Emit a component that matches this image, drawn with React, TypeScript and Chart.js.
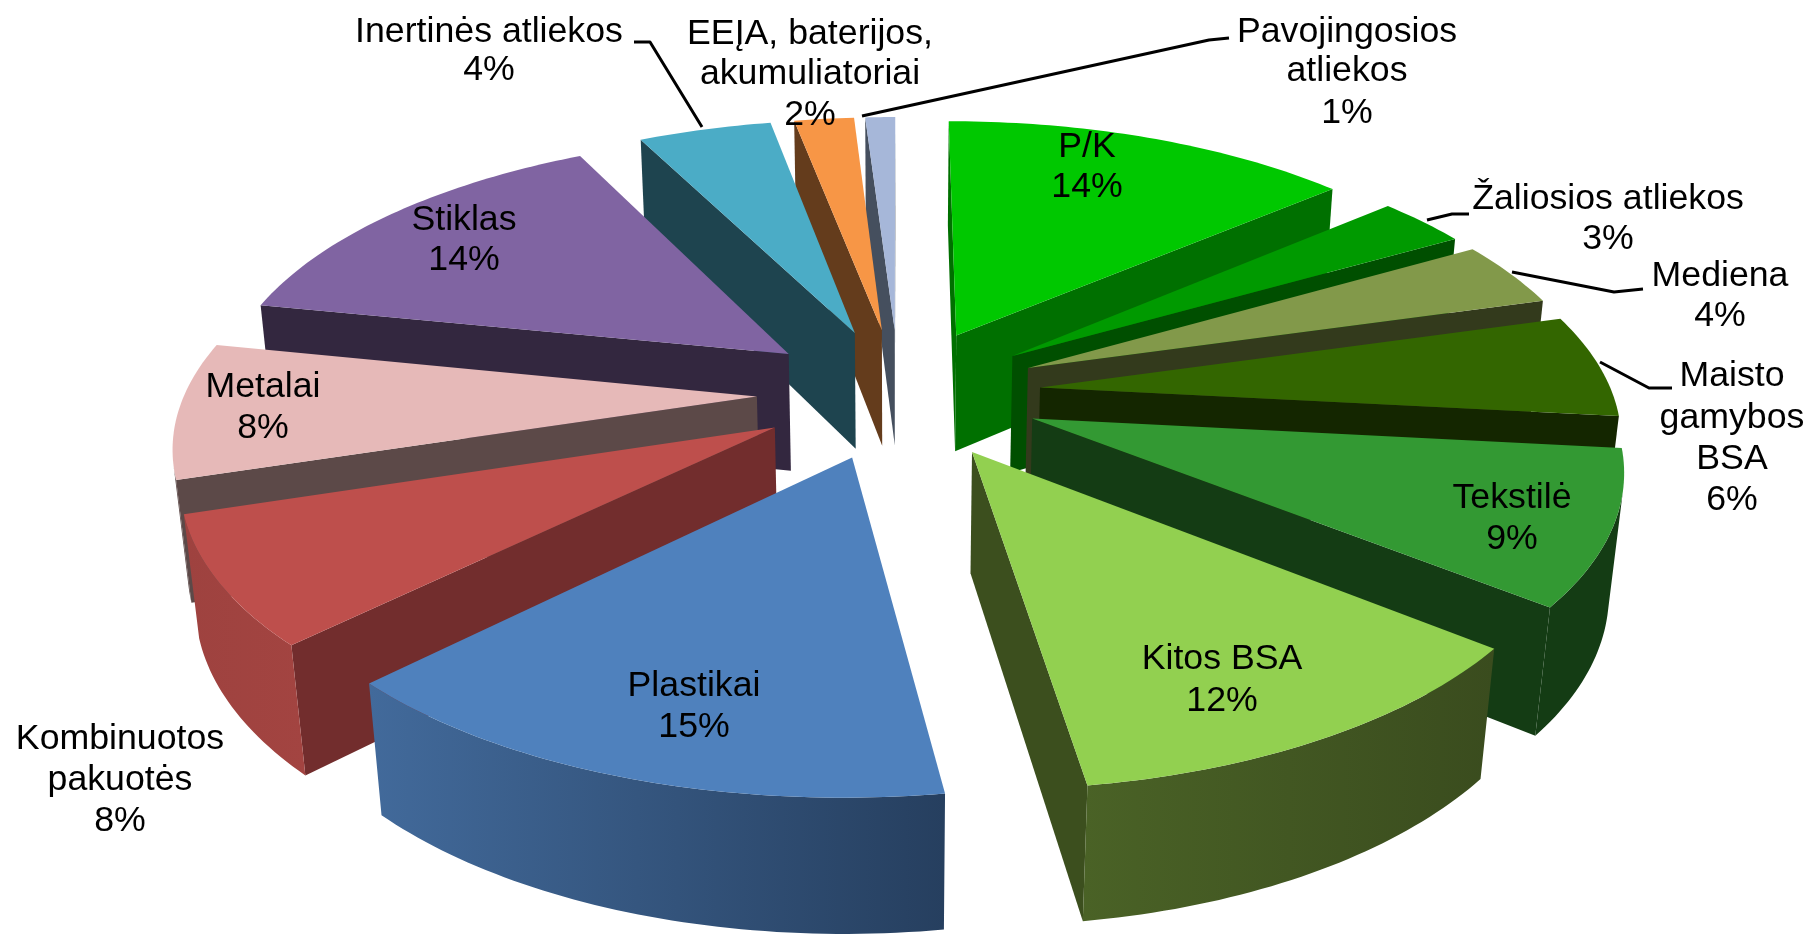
import React, { useEffect, useRef } from "react";
import { Chart, registerables } from "chart.js";

Chart.register(...registerables);

const categories = ["P/K", "Žaliosios atliekos", "Mediena", "Maisto gamybos BSA", "Tekstilė", "Kitos BSA", "Plastikai", "Kombinuotos pakuotės", "Metalai", "Stiklas", "Inertinės atliekos", "EEĮA, baterijos, akumuliatoriai", "Pavojingosios atliekos"];
const values = [13.7, 3.0, 3.9, 6.1, 9.05, 11.95, 14.9, 7.55, 8.05, 14.35, 4.45, 2, 1];
const topColors = ["#00C800", "#009A00", "#82994A", "#336600", "#339933", "#92D050", "#4F81BD", "#BE4F4C", "#E6B9B8", "#8064A2", "#4BACC6", "#F79646", "#A6B7D9"];
const radialColors = ["#007000", "#004F00", "#333A1C", "#142600", "#143C14", "#3C4F1E", "#2A4566", "#722D2D", "#5C4948", "#33273F", "#1E444F", "#643C1C", "#454F5E"];
const outerLeft = ["#007000", "#004F00", "#333A1C", "#142600", "#143C14", "#4A6226", "#426A9B", "#9E423F", "#5C4948", "#33273F", "#1E444F", "#643C1C", "#454F5E"];
const outerRight = ["#007000", "#004F00", "#333A1C", "#142600", "#143C14", "#3A4C1E", "#263F5F", "#A34441", "#5C4948", "#33273F", "#1E444F", "#643C1C", "#454F5E"];
const labelLines = [["P/K", "14%"], ["Žaliosios atliekos", "3%"], ["Mediena", "4%"], ["Maisto", "gamybos", "BSA", "6%"], ["Tekstilė", "9%"], ["Kitos BSA", "12%"], ["Plastikai", "15%"], ["Kombinuotos", "pakuotės", "8%"], ["Metalai", "8%"], ["Stiklas", "14%"], ["Inertinės atliekos", "4%"], ["EEĮA, baterijos,", "akumuliatoriai", "2%"], ["Pavojingosios", "atliekos", "1%"]];
const labelCenterX = [1087, 1608, 1720, 1732, 1512, 1222, 694, 120, 263, 464, 489, 810, 1347];
const labelLineY = [[147, 187], [199, 239], [276, 316], [376, 418, 459, 500], [498, 539], [659, 701], [686, 727], [739, 780, 821], [387, 428], [220, 260], [32, 70], [34, 74, 115], [32, 71, 113]];
const leaderLines = [
  [[634, 42], [650, 42], [702, 127]],
  [[1229, 38], [1209, 40], [862, 116]],
  [[1469, 214], [1452, 214], [1427, 220]],
  [[1643, 289], [1614, 292], [1512, 272]],
  [[1672, 388], [1649, 388], [1600, 362]],
];

const TILT = 0.462;
const PERSPECTIVE = 3656;
const DEPTH = 121;
const DEPTH_FADE = 5900;
const EXPLODE = 142;
const RADIUS = 572;

type Pt = [number, number];

function shoelace(p: Pt[]) {
  let a = 0;
  for (let i = 0; i < p.length; i++) {
    const q = p[(i + 1) % p.length];
    a += p[i][0] * q[1] - q[0] * p[i][1];
  }
  return a / 2;
}

function fillPoly(ctx: CanvasRenderingContext2D, p: Pt[], style: any) {
  ctx.beginPath();
  p.forEach((v, i) => (i ? ctx.lineTo(v[0], v[1]) : ctx.moveTo(v[0], v[1])));
  ctx.closePath();
  ctx.fillStyle = style;
  ctx.fill();
}

const pie3d = {
  id: "pie3d",
  beforeDatasetsDraw(chart: any) {
    const ctx: CanvasRenderingContext2D = chart.ctx;
    const arcs = chart.getDatasetMeta(0).data;
    const items = arcs.map((el: any, i: number) => {
      const offset = el.options.offset;
      const mid = (el.startAngle + el.endAngle) / 2;
      return { el, i, ax: Math.cos(mid) * offset, ay: Math.sin(mid) * offset };
    });
    items.sort((a: any, b: any) => a.ay - b.ay);
    for (const { el, i, ax, ay } of items) {
      const cx = el.x;
      const cy = el.y;
      const project = (X: number, Y: number, z: number): Pt => {
        const p = 1 / (1 - Y / PERSPECTIVE + z / DEPTH_FADE);
        return [cx + X * p, cy + (Y * TILT + z) * p];
      };
      const n = Math.max(8, Math.round(((el.endAngle - el.startAngle) * 180) / Math.PI));
      const top: Pt[] = [];
      const bot: Pt[] = [];
      for (let s = 0; s <= n; s++) {
        const t = el.startAngle + ((el.endAngle - el.startAngle) * s) / n;
        const X = ax + Math.cos(t) * el.outerRadius;
        const Y = ay + Math.sin(t) * el.outerRadius;
        top.push(project(X, Y, 0));
        bot.push(project(X, Y, DEPTH));
      }
      const apexT = project(ax, ay, 0);
      const apexB = project(ax, ay, DEPTH);
      const q1: Pt[] = [apexT, top[0], bot[0], apexB];
      const q2: Pt[] = [top[n], apexT, apexB, bot[n]];
      if (shoelace(q1) < 0) fillPoly(ctx, q1, radialColors[i]);
      if (shoelace(q2) < 0) fillPoly(ctx, q2, radialColors[i]);
      let a = -1;
      let b = -1;
      for (let s = 0; s < n; s++) {
        if (shoelace([top[s], top[s + 1], bot[s + 1], bot[s]]) < 0) {
          if (a < 0) a = s;
          b = s + 1;
        }
      }
      if (a >= 0) {
        const run: Pt[] = [...top.slice(a, b + 1), ...bot.slice(a, b + 1).reverse()];
        const xs = run.map((v) => v[0]);
        const g = ctx.createLinearGradient(Math.min(...xs), 0, Math.max(...xs), 0);
        g.addColorStop(0, outerLeft[i]);
        g.addColorStop(1, outerRight[i]);
        fillPoly(ctx, run, g);
      }
      fillPoly(ctx, [apexT, ...top], el.options.backgroundColor);
    }
    return false;
  },
  afterDraw(chart: any) {
    const ctx: CanvasRenderingContext2D = chart.ctx;
    ctx.save();
    ctx.strokeStyle = "#000";
    ctx.lineWidth = 3;
    ctx.lineJoin = "round";
    for (const line of leaderLines) {
      ctx.beginPath();
      line.forEach((v, i) => (i ? ctx.lineTo(v[0], v[1]) : ctx.moveTo(v[0], v[1])));
      ctx.stroke();
    }
    ctx.fillStyle = "#000";
    ctx.font = '35.7px "Liberation Sans"';
    ctx.textAlign = "center";
    ctx.textBaseline = "middle";
    labelLines.forEach((lines, i) => {
      lines.forEach((t, j) => ctx.fillText(t, labelCenterX[i], labelLineY[i][j]));
    });
    ctx.restore();
  },
};

export default function App() {
  const ref = useRef<HTMLCanvasElement>(null);
  useEffect(() => {
    const chart = new Chart(ref.current as HTMLCanvasElement, {
      type: "pie",
      data: {
        labels: categories,
        datasets: [
          {
            data: values,
            backgroundColor: topColors,
            borderWidth: 0,
            offset: EXPLODE,
            radius: RADIUS,
          } as any,
        ],
      },
      options: {
        animation: false,
        responsive: false,
        devicePixelRatio: 1,
        layout: { padding: { right: 16, bottom: 148 } },
        plugins: { legend: { display: false }, tooltip: { enabled: false } },
      },
      plugins: [pie3d],
    } as any);
    return () => chart.destroy();
  }, []);
  return (
    <div style={{ position: "fixed", left: 0, top: 0, width: 1814, height: 934, background: "#fff" }}>
      <canvas ref={ref} width={1814} height={934} style={{ display: "block" }} />
    </div>
  );
}
